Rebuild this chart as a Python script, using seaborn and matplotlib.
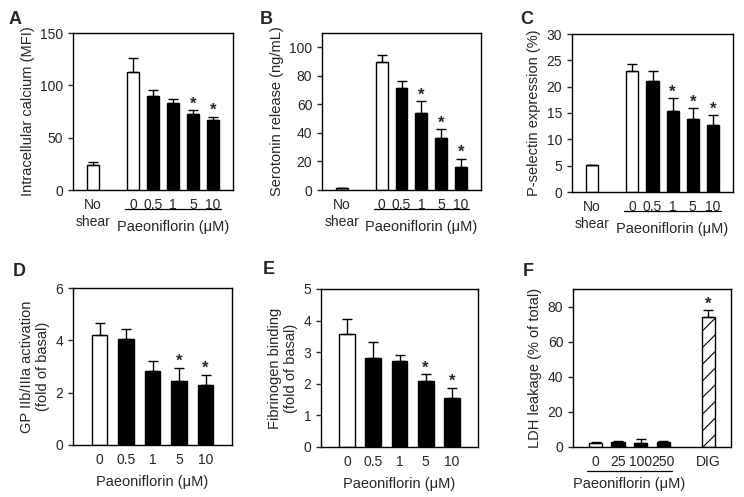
import numpy as np
import pandas as pd
import matplotlib
matplotlib.use("Agg")
import matplotlib.pyplot as plt
import seaborn as sns

# Panel A - intracellular calcium
a_cats = ["No shear", "0", "0.5", "1", "5", "10"]
a_vals = [24, 113, 90, 83, 73, 67]
a_err = [2.5, 13, 6, 4, 3.5, 3]
a_star = ["5", "10"]

# Panel B - serotonin release
b_cats = ["No shear", "0", "0.5", "1", "5", "10"]
b_vals = [1.2, 89.7, 71.5, 54.2, 36.4, 16.4]
b_err = [0.4, 5.2, 5.0, 8.0, 6.2, 5.6]
b_star = ["1", "5", "10"]

# Panel C - P-selectin
c_cats = ["No shear", "0", "0.5", "1", "5", "10"]
c_vals = [5.1, 23.0, 21.1, 15.3, 13.9, 12.8]
c_err = [0.1, 1.3, 1.9, 2.5, 2.0, 1.8]
c_star = ["1", "5", "10"]

# Panel D - GP IIb/IIIa
d_cats = ["0", "0.5", "1", "5", "10"]
d_vals = [4.19, 4.05, 2.82, 2.45, 2.29]
d_err = [0.46, 0.38, 0.38, 0.51, 0.40]
d_star = ["5", "10"]

# Panel E - fibrinogen binding
e_cats = ["0", "0.5", "1", "5", "10"]
e_vals = [3.59, 2.83, 2.72, 2.09, 1.56]
e_err = [0.45, 0.49, 0.20, 0.21, 0.32]
e_star = ["5", "10"]

# Panel F - LDH leakage
f_cats = ["0", "25", "100", "250", "DIG"]
f_vals = [2.3, 2.7, 2.5, 2.9, 74.1]
f_err = [0.6, 0.5, 1.9, 0.5, 3.8]
f_star = ["DIG"]

sns.set_style("ticks")
plt.rcParams["font.family"] = ["Liberation Sans", "DejaVu Sans"]
plt.rcParams["hatch.linewidth"] = 0.8

FW, FH = 744, 497


def make_ax(fig, l, t, r, b):
    return fig.add_axes([l / FW, 1 - b / FH, (r - l) / FW, (b - t) / FH])


def draw_panel(ax, cats, vals, errs, stars, order, ylim, yticks, ylabel,
               white=("No shear", "0"), hatched=()):
    df = pd.DataFrame({"cond": cats, "val": vals})
    pal = {c: ("white" if (c in white or c in hatched) else "black") for c in cats}
    sns.barplot(data=df, x="cond", y="val", hue="cond", order=order,
                palette=pal, width=0.6, edgecolor="black", linewidth=1,
                legend=False, ax=ax)
    pos = [order.index(c) for c in cats]
    ax.errorbar(pos, vals, yerr=[np.zeros(len(errs)), errs], fmt="none",
                ecolor="black", elinewidth=1, capsize=3.5, capthick=1)
    for c in hatched:
        px = order.index(c)
        for p in ax.patches:
            if abs(p.get_x() + p.get_width() / 2 - px) < 0.01:
                p.set_hatch("//")
    for c in stars:
        i = cats.index(c)
        ax.annotate("*", (pos[i], vals[i] + errs[i]), xytext=(0, -1),
                    textcoords="offset points", ha="center", va="bottom",
                    fontsize=12, fontweight="bold")
    ax.set_xlim(-1, len(order))
    ax.set_ylim(*ylim)
    ax.set_yticks(yticks)
    ax.set_xlabel("")
    ax.set_ylabel(ylabel, fontsize=10.5, labelpad=4)
    ax.tick_params(axis="x", length=0, labelsize=10, pad=6)
    ax.tick_params(axis="y", length=3.5, width=1, labelsize=10, direction="out")
    for s in ax.spines.values():
        s.set_visible(True)
        s.set_linewidth(1)
        s.set_color("black")


def group_label(ax, x0, x1, line=True, y_line=-0.12, y_text=-0.235):
    tr = ax.get_xaxis_transform()
    if line:
        ax.plot([x0 - 0.4, x1 + 0.4], [y_line, y_line], color="black", lw=0.9,
                transform=tr, clip_on=False)
    ax.text((x0 + x1) / 2, y_text, "Paeoniflorin (\u03bcM)", transform=tr,
            ha="center", va="center", fontsize=10.5)


fig = plt.figure(figsize=(FW / 100, FH / 100), dpi=100)

top_order = ["No\nshear", " ", "0", "0.5", "1", "5", "10"]


def relabel(cats):
    return [c.replace("No shear", "No\nshear") for c in cats]


axA = make_ax(fig, 73, 33, 233, 190)
draw_panel(axA, relabel(a_cats), a_vals, a_err, a_star, top_order,
           (0, 150), [0, 50, 100, 150], "Intracellular calcium (MFI)",
           white=("No\nshear", "0"))
group_label(axA, 2, 6)

axB = make_ax(fig, 322, 33, 481, 190)
draw_panel(axB, relabel(b_cats), b_vals, b_err, b_star, top_order,
           (0, 110), [0, 20, 40, 60, 80, 100], "Serotonin release (ng/mL)",
           white=("No\nshear", "0"))
group_label(axB, 2, 6)

axC = make_ax(fig, 572, 34, 733, 192)
draw_panel(axC, relabel(c_cats), c_vals, c_err, c_star, top_order,
           (0, 30), [0, 5, 10, 15, 20, 25, 30], "P-selectin expression (%)",
           white=("No\nshear", "0"))
group_label(axC, 2, 6)

axD = make_ax(fig, 73, 288, 232, 445)
draw_panel(axD, d_cats, d_vals, d_err, d_star, d_cats,
           (0, 6), [0, 2, 4, 6], "GP IIb/IIIa activation\n(fold of basal)")
group_label(axD, 0, 4, line=False, y_text=-0.235)

axE = make_ax(fig, 321, 289, 478, 447)
draw_panel(axE, e_cats, e_vals, e_err, e_star, e_cats,
           (0, 5), [0, 1, 2, 3, 4, 5], "Fibrinogen binding\n(fold of basal)")
group_label(axE, 0, 4, line=False, y_text=-0.235)

axF = make_ax(fig, 573, 289, 731, 447)
f_order = ["0", "25", "100", "250", "  ", "DIG"]
draw_panel(axF, f_cats, f_vals, f_err, f_star, f_order,
           (0, 90), [0, 20, 40, 60, 80], "LDH leakage (% of total)",
           white=("0",), hatched=("DIG",))
group_label(axF, 0, 3, y_line=-0.15, y_text=-0.235)

letters = [("A", 15, 19), ("B", 266, 20), ("C", 527, 19),
           ("D", 19, 272), ("E", 269, 270), ("F", 528, 271)]
for s, x, y in letters:
    fig.text(x / FW, 1 - y / FH, s, fontsize=13, fontweight="bold",
             ha="center", va="center")

fig.savefig("out.png", dpi=100, facecolor="white")
